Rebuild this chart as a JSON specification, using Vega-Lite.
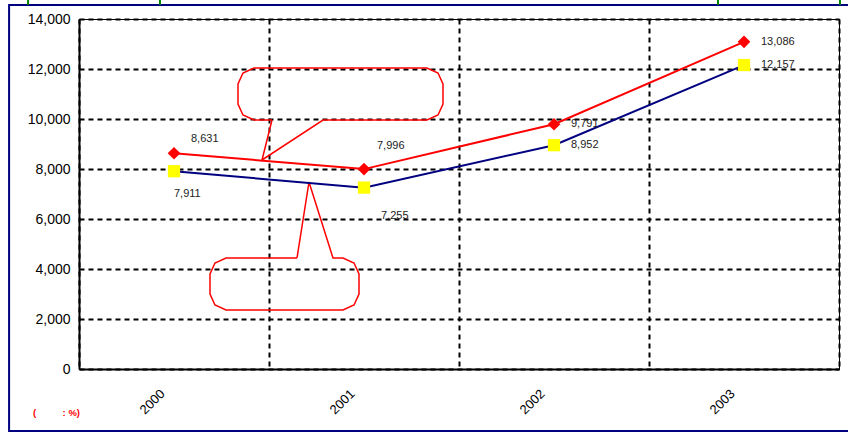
{
  "$schema": "https://vega.github.io/schema/vega-lite/v6.json",
  "width": 760,
  "height": 350,
  "autosize": "none",
  "padding": {"left": 79, "top": 19, "right": 9, "bottom": 64},
  "background": "white",
  "config": {
    "view": {"stroke": "black", "strokeWidth": 1},
    "font": "Liberation Sans",
    "axis": {"labelFont": "Liberation Sans", "labelColor": "black"}
  },
  "datasets": {
    "series": [
      {"year": "2000", "series": "A", "value": 8631},
      {"year": "2001", "series": "A", "value": 7996},
      {"year": "2002", "series": "A", "value": 9791},
      {"year": "2003", "series": "A", "value": 13086},
      {"year": "2000", "series": "B", "value": 7911},
      {"year": "2001", "series": "B", "value": 7255},
      {"year": "2002", "series": "B", "value": 8952},
      {"year": "2003", "series": "B", "value": 12157}
    ],
    "callouts": [
      {"shape": "U", "ord": 1, "cx": 1.0158, "cy": 9960},
      {"shape": "U", "ord": 2, "cx": 0.9632, "cy": 8360},
      {"shape": "U", "ord": 3, "cx": 1.2842, "cy": 9960},
      {"shape": "U", "ord": 4, "cx": 1.8316, "cy": 9960},
      {"shape": "U", "ord": 5, "cx": 1.8895, "cy": 10160},
      {"shape": "U", "ord": 6, "cx": 1.9158, "cy": 10600},
      {"shape": "U", "ord": 7, "cx": 1.9158, "cy": 11400},
      {"shape": "U", "ord": 8, "cx": 1.8895, "cy": 11840},
      {"shape": "U", "ord": 9, "cx": 1.8316, "cy": 12040},
      {"shape": "U", "ord": 10, "cx": 0.921, "cy": 12040},
      {"shape": "U", "ord": 11, "cx": 0.8631, "cy": 11840},
      {"shape": "U", "ord": 12, "cx": 0.8368, "cy": 11400},
      {"shape": "U", "ord": 13, "cx": 0.8368, "cy": 10600},
      {"shape": "U", "ord": 14, "cx": 0.8631, "cy": 10160},
      {"shape": "U", "ord": 15, "cx": 0.921, "cy": 9960},
      {"shape": "U", "ord": 16, "cx": 1.0158, "cy": 9960},
      {"shape": "D", "ord": 1, "cx": 1.1474, "cy": 4440},
      {"shape": "D", "ord": 2, "cx": 1.2105, "cy": 7480},
      {"shape": "D", "ord": 3, "cx": 1.3368, "cy": 4440},
      {"shape": "D", "ord": 4, "cx": 1.3895, "cy": 4440},
      {"shape": "D", "ord": 5, "cx": 1.4474, "cy": 4240},
      {"shape": "D", "ord": 6, "cx": 1.4737, "cy": 3800},
      {"shape": "D", "ord": 7, "cx": 1.4737, "cy": 3000},
      {"shape": "D", "ord": 8, "cx": 1.4474, "cy": 2560},
      {"shape": "D", "ord": 9, "cx": 1.3895, "cy": 2360},
      {"shape": "D", "ord": 10, "cx": 0.7737, "cy": 2360},
      {"shape": "D", "ord": 11, "cx": 0.7158, "cy": 2560},
      {"shape": "D", "ord": 12, "cx": 0.6895, "cy": 3000},
      {"shape": "D", "ord": 13, "cx": 0.6895, "cy": 3800},
      {"shape": "D", "ord": 14, "cx": 0.7158, "cy": 4240},
      {"shape": "D", "ord": 15, "cx": 0.7737, "cy": 4440},
      {"shape": "D", "ord": 16, "cx": 1.1474, "cy": 4440}
    ],
    "frame": [{"x0": -0.368, "x1": 4.08, "y0": -2480, "y1": 14560}],
    "brackets": [
      {"bx": -0.268, "y0": 14800, "y1": 14560},
      {"bx": 0.426, "y0": 14800, "y1": 14560},
      {"bx": 3.363, "y0": 14800, "y1": 14560},
      {"bx": 4.005, "y0": 14800, "y1": 14560}
    ],
    "note": [{"nx": -0.242, "ny": -1760, "label": "(\u00a0\u00a0\u00a0\u00a0\u00a0\u00a0\u00a0\u00a0\u00a0\u00a0: %)"}]
  },
  "resolve": {"scale": {"x": "independent", "y": "independent"}},
  "layer": [
    {
      "layer": [
        {
          "data": {"name": "frame"},
          "mark": {"type": "rect", "fill": null, "stroke": "#000080", "strokeWidth": 2, "clip": false},
          "encoding": {
            "x": {"field": "x0", "type": "quantitative", "scale": {"domain": [0, 4], "nice": false, "zero": false}, "axis": null},
            "x2": {"field": "x1"},
            "y": {"field": "y0", "type": "quantitative", "scale": {"domain": [0, 14000], "nice": false}, "axis": null},
            "y2": {"field": "y1"}
          }
        },
        {
          "data": {"name": "brackets"},
          "mark": {"type": "rule", "stroke": "#008000", "strokeWidth": 2, "clip": false},
          "encoding": {
            "x": {"field": "bx", "type": "quantitative"},
            "y": {"field": "y0", "type": "quantitative"},
            "y2": {"field": "y1"}
          }
        },
        {
          "data": {"name": "callouts"},
          "mark": {"type": "line", "stroke": "#FF0000", "strokeWidth": 1.5, "interpolate": "linear"},
          "encoding": {
            "x": {"field": "cx", "type": "quantitative"},
            "y": {"field": "cy", "type": "quantitative"},
            "detail": {"field": "shape"},
            "order": {"field": "ord", "type": "quantitative"}
          }
        },
        {
          "data": {"name": "note"},
          "mark": {"type": "text", "color": "#FF0000", "fontWeight": "bold", "fontSize": 9.5, "align": "left", "baseline": "middle", "clip": false},
          "encoding": {
            "x": {"field": "nx", "type": "quantitative"},
            "y": {"field": "ny", "type": "quantitative"},
            "text": {"field": "label"}
          }
        }
      ]
    },
    {
      "data": {"name": "series"},
      "encoding": {
        "x": {
          "field": "year", "type": "ordinal",
          "scale": {"type": "band", "paddingInner": 0, "paddingOuter": 0},
          "axis": {
            "orient": "bottom",
            "title": null, "labelAngle": -45, "labelFontSize": 13, "labelPadding": 18, "labelOffset": -16,
            "ticks": false, "tickBand": "extent", "grid": true, "gridColor": "black",
            "gridDash": [5, 4], "gridWidth": 2, "domainColor": "black", "domainWidth": 2
          }
        },
        "y": {
          "field": "value", "type": "quantitative",
          "scale": {"domain": [0, 14000], "nice": false},
          "axis": {
            "orient": "left",
            "title": null, "values": [0, 2000, 4000, 6000, 8000, 10000, 12000, 14000],
            "format": ",d", "labelFontSize": 14, "labelPadding": 9, "ticks": false,
            "grid": true, "gridColor": "black", "gridDash": [5, 4], "gridWidth": 2,
            "domainColor": "black", "domainWidth": 2
          }
        }
      },
      "layer": [
        {
          "transform": [{"filter": "datum.series === 'B'"}],
          "mark": {"type": "line", "stroke": "#000080", "strokeWidth": 2}
        },
        {
          "transform": [{"filter": "datum.series === 'A'"}],
          "mark": {"type": "line", "stroke": "#FF0000", "strokeWidth": 2}
        },
        {
          "transform": [{"filter": "datum.series === 'B'"}],
          "mark": {"type": "point", "shape": "square", "filled": true, "fill": "#FFFF00", "opacity": 1, "size": 150}
        },
        {
          "transform": [{"filter": "datum.series === 'A'"}],
          "mark": {"type": "point", "shape": "diamond", "filled": true, "fill": "#FF0000", "opacity": 1, "size": 160}
        },
        {
          "transform": [{"filter": "datum.series === 'A' && datum.year === '2000'"}],
          "mark": {"type": "text", "fontSize": 11, "color": "#222", "align": "left", "baseline": "middle", "dx": 17, "dy": -14},
          "encoding": {"text": {"field": "value", "type": "quantitative", "format": ",d"}}
        },
        {
          "transform": [{"filter": "datum.series === 'A' && datum.year === '2001'"}],
          "mark": {"type": "text", "fontSize": 11, "color": "#222", "align": "left", "baseline": "middle", "dx": 13, "dy": -23},
          "encoding": {"text": {"field": "value", "type": "quantitative", "format": ",d"}}
        },
        {
          "transform": [{"filter": "datum.series === 'A' && (datum.year === '2002' || datum.year === '2003')"}],
          "mark": {"type": "text", "fontSize": 11, "color": "#222", "align": "left", "baseline": "middle", "dx": 17, "dy": 0},
          "encoding": {"text": {"field": "value", "type": "quantitative", "format": ",d"}}
        },
        {
          "transform": [{"filter": "datum.series === 'B' && datum.year === '2000'"}],
          "mark": {"type": "text", "fontSize": 11, "color": "#222", "align": "left", "baseline": "middle", "dx": 0, "dy": 23},
          "encoding": {"text": {"field": "value", "type": "quantitative", "format": ",d"}}
        },
        {
          "transform": [{"filter": "datum.series === 'B' && datum.year === '2001'"}],
          "mark": {"type": "text", "fontSize": 11, "color": "#222", "align": "left", "baseline": "middle", "dx": 17, "dy": 28},
          "encoding": {"text": {"field": "value", "type": "quantitative", "format": ",d"}}
        },
        {
          "transform": [{"filter": "datum.series === 'B' && (datum.year === '2002' || datum.year === '2003')"}],
          "mark": {"type": "text", "fontSize": 11, "color": "#222", "align": "left", "baseline": "middle", "dx": 17, "dy": 0},
          "encoding": {"text": {"field": "value", "type": "quantitative", "format": ",d"}}
        }
      ]
    }
  ]
}
